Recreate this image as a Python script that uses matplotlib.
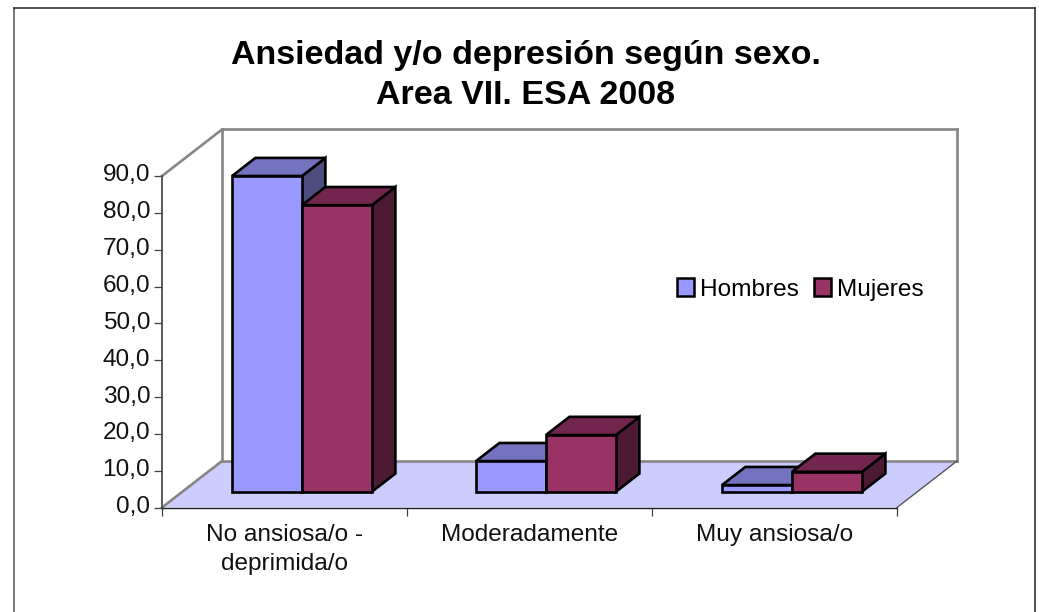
import matplotlib
matplotlib.use("Agg")
import matplotlib.pyplot as plt
from matplotlib.patches import Patch, Polygon
from matplotlib.lines import Line2D
from matplotlib.transforms import ScaledTranslation

categories = ["No ansiosa/o -\ndeprimida/o", "Moderadamente", "Muy ansiosa/o"]
hombres = [85.7, 8.3, 1.8]
mujeres = [77.8, 15.4, 5.4]
series_names = ["Hombres", "Mujeres"]
yticks = list(range(0, 100, 10))
title = "Ansiedad y/o depresión según sexo.\nArea VII. ESA 2008"

W, H = 1039, 612
plt.rcParams["font.family"] = ["Liberation Sans", "DejaVu Sans"]
fig = plt.figure(figsize=(W / 100, H / 100), dpi=100, facecolor="white")

L, R, T, B = 162.0, 897.0, 176.0, 507.5
ax = fig.add_axes([L / W, 1 - B / H, (R - L) / W, (B - T) / H])
ax.set_xlim(0, 3)
ax.set_ylim(0, 90)
ax.patch.set_visible(False)

px_x = 3 / (R - L)
px_y = 90 / (B - T)
DX, DY = 60 * px_x, 46.5 * px_y     # full depth of the 3-D box in data units


def proj(x, y, d):
    return x + DX * d, y + DY * d


# floor and walls
floor = [proj(0, 0, 0), proj(3, 0, 0), proj(3, 0, 1), proj(0, 0, 1)]
ax.add_patch(Polygon(floor, closed=True, fc="#CCCCFF", ec="none", zorder=1, clip_on=False))
wall = "#868686"
for a, b in [
    ((0, 90, 0), (0, 90, 1)),
    ((0, 0, 0), (0, 0, 1)),
    ((0, 0, 1), (0, 90, 1)),
    ((0, 90, 1), (3, 90, 1)),
    ((3, 90, 1), (3, 0, 1)),
    ((0, 0, 1), (3, 0, 1)),
]:
    pa, pb = proj(*a), proj(*b)
    ax.add_line(Line2D([pa[0], pb[0]], [pa[1], pb[1]], color=wall, lw=1.9, zorder=2, clip_on=False))
pa, pb = proj(3, 0, 0), proj(3, 0, 1)
ax.add_line(Line2D([pa[0], pb[0]], [pa[1], pb[1]], color="#555555", lw=1.0, zorder=2, clip_on=False))

BAR_W = 0.2857
D0, D1 = 0.34, 0.73
STYLES = [
    ("#9999FF", "#7373BF", "#4D4D80"),
    ("#993366", "#73264D", "#4D1A33"),
]
EDGE = dict(ec="black", lw=1.9, joinstyle="miter", clip_on=False, zorder=3)


def draw_bar(x0, v, cols):
    x1 = x0 + BAR_W
    face, topc, side = cols
    ax.add_patch(Polygon([proj(x1, 0, D0), proj(x1, 0, D1), proj(x1, v, D1), proj(x1, v, D0)],
                         closed=True, fc=side, **EDGE))
    ax.add_patch(Polygon([proj(x0, v, D0), proj(x1, v, D0), proj(x1, v, D1), proj(x0, v, D1)],
                         closed=True, fc=topc, **EDGE))
    ax.add_patch(Polygon([proj(x0, 0, D0), proj(x1, 0, D0), proj(x1, v, D0), proj(x0, v, D0)],
                         closed=True, fc=face, **EDGE))


GROUP_NUDGE_PX = [0, -1, 0]
for i in range(len(categories)):
    base = i + 0.2857 - DX * D0 + GROUP_NUDGE_PX[i] * px_x
    draw_bar(base, hombres[i], STYLES[0])
    draw_bar(base + BAR_W, mujeres[i], STYLES[1])

# axes
for s in ("top", "right"):
    ax.spines[s].set_visible(False)
ax.spines["left"].set_color("#404040")
ax.spines["left"].set_linewidth(1.2)
ax.spines["bottom"].set_color("#202020")
ax.spines["bottom"].set_linewidth(1.0)
ax.spines["left"].set_zorder(4)
ax.spines["bottom"].set_zorder(4)

FS = 17.6
ax.set_yticks(yticks)
ax.set_yticklabels([f"{v:.1f}".replace(".", ",") for v in yticks], fontsize=FS, color="#111111")
ax.tick_params(axis="y", length=5.5, width=0.9, color="#404040", pad=3)
up = ScaledTranslation(0, 3 / 100, fig.dpi_scale_trans)
for lab in ax.get_yticklabels():
    lab.set_transform(lab.get_transform() + up)

ax.set_xticks(range(len(categories) + 1))
ax.set_xticklabels([])
ax.tick_params(axis="x", which="major", length=6, width=0.9, color="#404040")
ax.set_xticks([i + 0.5 for i in range(len(categories))], minor=True)
ax.set_xticklabels(categories, minor=True, fontsize=FS, color="#111111", linespacing=1.42)
ax.tick_params(axis="x", which="minor", length=0, pad=12)

fig.text(526 / W, 1 - 75.5 / H, title, ha="center", va="center", fontsize=24.5,
         fontweight="bold", color="black", linespacing=1.4)

handles = [Patch(fc=STYLES[0][0], ec="black", lw=1.8), Patch(fc=STYLES[1][0], ec="black", lw=1.8)]
ax.legend(handles, series_names, ncols=2, frameon=False, fontsize=FS,
          handlelength=0.7, handleheight=0.7, handletextpad=0.25, columnspacing=0.6,
          loc="center left", bbox_to_anchor=((677 - L) / (R - L), (B - 289.5) / (B - T)),
          borderpad=0, borderaxespad=0)

# chart frame
for xs, ys, c in [
    ([14, 14], [612, 8], "#555555"),
    ([14, 1035], [8, 8], "#222222"),
    ([1035, 1035], [8, 612], "#222222"),
]:
    fig.add_artist(Line2D([x / W for x in xs], [1 - y / H for y in ys], color=c, lw=1.1))

fig.savefig("out.png", dpi=100)
